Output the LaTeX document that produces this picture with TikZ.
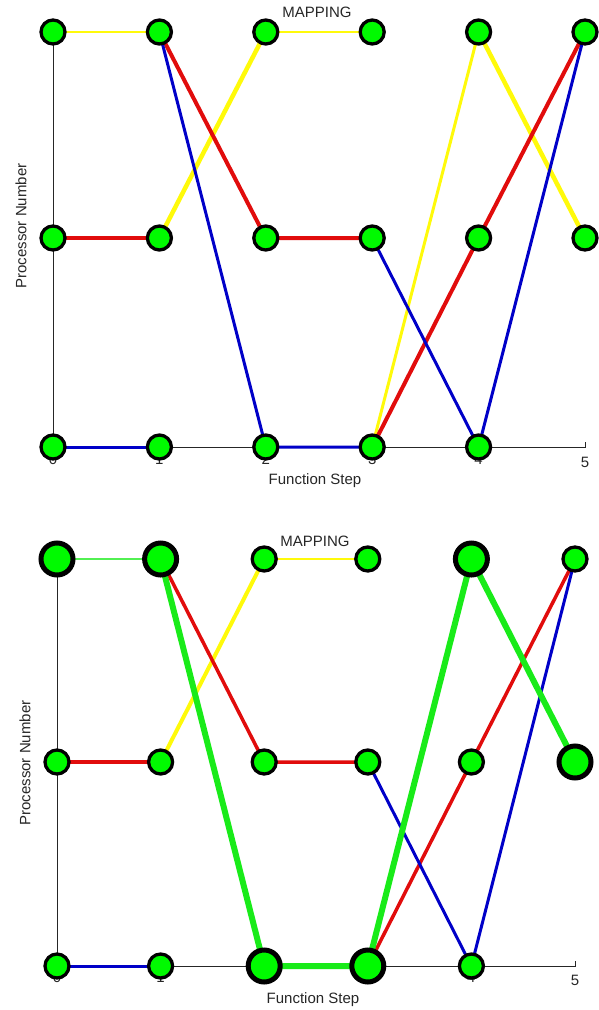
\documentclass[tikz,border=0pt]{standalone}
\usepackage{fontspec}
\setmainfont{Liberation Sans}
\usetikzlibrary{backgrounds}
\definecolor{nodegreen}{RGB}{0,250,0}
\definecolor{mapred}{RGB}{225,12,12}
\definecolor{mapyellow}{RGB}{255,250,10}
\definecolor{mapblue}{RGB}{0,0,200}
\definecolor{mapgreen}{RGB}{25,235,25}

\begin{document}
\begin{tikzpicture}[x=1pt,y=-1pt,
  font=\fontsize{15}{18}\selectfont,
  proc/.style={circle,draw=black,line width=3.3pt,fill=nodegreen,
    minimum size=24pt,inner sep=0pt},
  hot/.style={proc,line width=5pt,minimum size=32pt},
  axis/.style={draw=black!85,line width=0.9pt},
  lbl/.style={text=black!85,inner sep=0pt},
  ywire/.style={draw=mapyellow,line width=#1},
  rwire/.style={draw=mapred,line width=4pt},
  bwire/.style={draw=mapblue,line width=3pt},
  gwire/.style={draw=mapgreen,line width=#1}]
  \useasboundingbox (0,0) rectangle (599,1010);

  % upper plot
  \node[lbl] (atitle) at (317,12.5) {MAPPING};
  \node[lbl] (axlab) at (315,481) {Function Step};
  \node[lbl,rotate=90] (aylab) at (21,226) {Processor Number};
  \foreach \s in {0,...,4}
    \node[lbl] (anum\s) at ({53+106.4*\s},459) {\s};
  \node[lbl] (anum5) at (585,462) {5};
  \foreach \s in {0,...,4} {
    \node[proc] (at\s) at ({53+106.4*\s},32) {};
    \node[proc] (am\s) at ({53+106.4*\s},238) {};
    \node[proc] (ab\s) at ({53+106.4*\s},447) {};
  }
  \node[proc] (at5) at (585,32) {};
  \node[proc] (am5) at (585,238) {};
  \coordinate (ab5) at (585,447);

  % lower plot
  \node[lbl] (btitle) at (315,541) {MAPPING};
  \node[lbl] (bxlab) at (313,1000) {Function Step};
  \node[lbl,rotate=90] (bylab) at (25,763) {Processor Number};
  \foreach \s in {0,...,4}
    \node[lbl] (bnum\s) at ({57+103.6*\s},977) {\s};
  \node[lbl] (bnum5) at (575,980) {5};
  \foreach \s/\tk/\bk in {0/hot/proc,1/hot/proc,2/proc/hot,3/proc/hot,4/hot/proc} {
    \node[\tk] (bt\s) at ({57+103.6*\s},559) {};
    \node[proc] (bm\s) at ({57+103.6*\s},762) {};
    \node[\bk] (bb\s) at ({57+103.6*\s},966) {};
  }
  \node[proc] (bt5) at (575,559) {};
  \node[hot] (bm5) at (575,762) {};
  \coordinate (bb5) at (575,966);

  \begin{pgfonlayer}{background}
    % axes
    \draw[axis] (at0.center) -- (ab0.center) -- (ab5) -- ++(0,-5);
    \draw[axis] (bt0.center) -- (bb0.center) -- (bb5) -- ++(0,-5);
    % upper mapping
    \draw[ywire=1.5pt] (at0.center) -- (at1.center);
    \draw[ywire=4.5pt] (am1.center) -- (at2.center);
    \draw[ywire=1.5pt] (at2.center) -- (at3.center);
    \draw[ywire=3pt] (ab3.center) -- (at4.center);
    \draw[ywire=4.5pt] (at4.center) -- (am5.center);
    \draw[rwire] (am0.center) -- (am1.center);
    \draw[rwire] (at1.center) -- (am2.center) -- (am3.center);
    \draw[rwire] (ab3.center) -- (am4.center) -- (at5.center);
    \draw[bwire] (ab0.center) -- (ab1.center);
    \draw[bwire] (at1.center) -- (ab2.center) -- (ab3.center);
    \draw[bwire] (am3.center) -- (ab4.center) -- (at5.center);
    % lower mapping
    \draw[ywire=4pt] (bm1.center) -- (bt2.center);
    \draw[ywire=1.5pt] (bt2.center) -- (bt3.center);
    \draw[rwire,line width=3.5pt] (bm0.center) -- (bm1.center);
    \draw[rwire,line width=3.5pt] (bt1.center) -- (bm2.center) -- (bm3.center);
    \draw[rwire,line width=3.5pt] (bb3.center) -- (bm4.center) -- (bt5.center);
    \draw[bwire] (bb0.center) -- (bb1.center);
    \draw[bwire] (bm3.center) -- (bb4.center) -- (bt5.center);
    \draw[gwire=2pt,draw=mapgreen!75] (bt0.center) -- (bt1.center);
    \draw[gwire=6pt,line join=round] (bt1.center) -- (bb2.center) -- (bb3.center)
      -- (bt4.center) -- (bm5.center);
  \end{pgfonlayer}
\end{tikzpicture}
\end{document}
